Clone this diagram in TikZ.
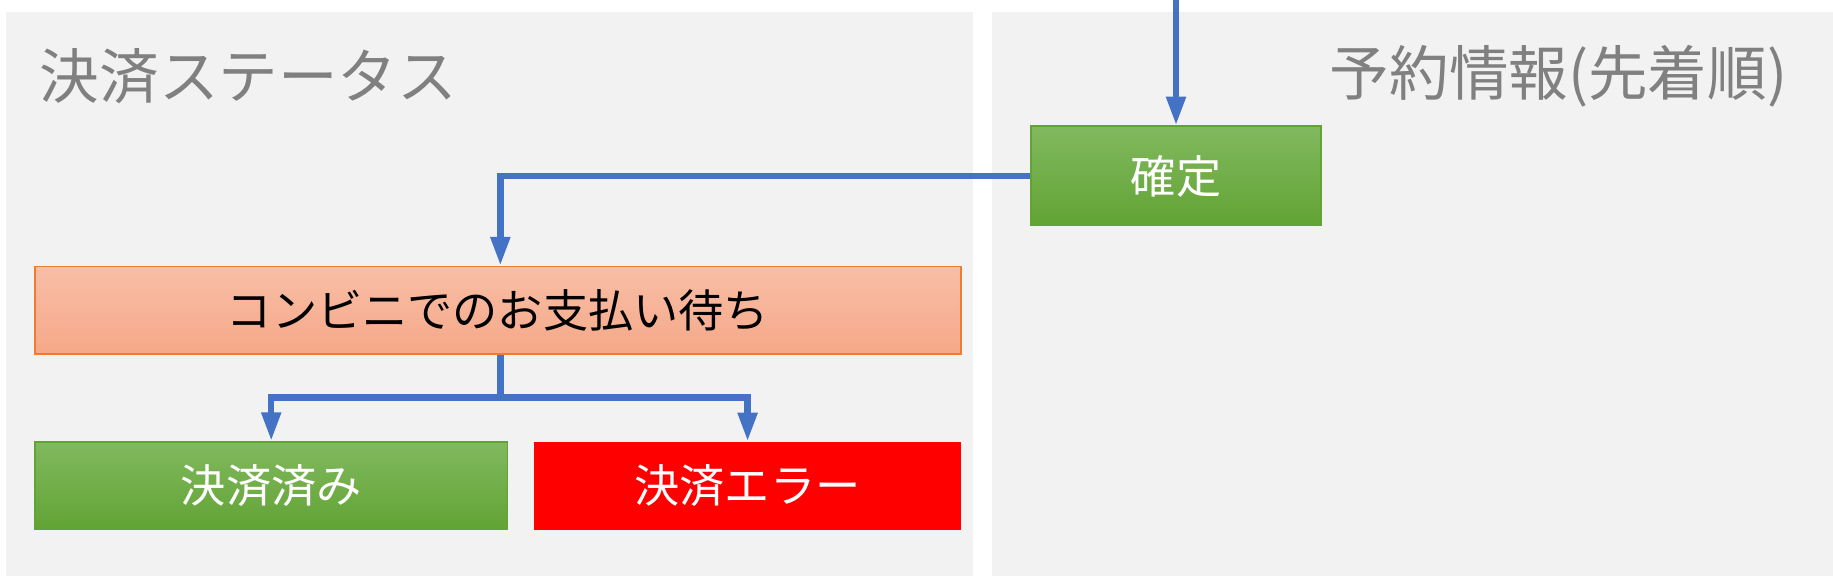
\documentclass[tikz,border=0pt]{standalone}
\usepackage{fontspec}
\setmainfont{Noto Sans CJK JP}
\usetikzlibrary{arrows.meta}
\begin{document}
\begin{tikzpicture}[x=0.02cm,y=-0.02cm,
  panel/.style={fill=black!5,draw=none},
  gbox/.style={draw=green!45!black!70,line width=0.8pt,top color=green!35!black!40!lime!60,bottom color=green!40!black!70,text=white,font=\fontsize{22}{24}\selectfont},
  flow/.style={draw={rgb,255:red,68;green,114;blue,196},line width=3.2pt,-{Triangle[length=14pt,width=9pt]}},
  title/.style={text=black!50,font=\fontsize{29}{32}\selectfont,anchor=west}]
\definecolor{g1}{RGB}{129,185,95}\definecolor{g2}{RGB}{98,163,52}
\tikzset{gbox/.style={draw=g2,line width=0.8pt,top color=g1,bottom color=g2,text=white,font=\fontsize{22}{24}\selectfont}}
\useasboundingbox (0,0) rectangle (1568,493);
\fill[white] (0,0) rectangle (1568,493);
\path[panel] (5,10) rectangle (832,493);
\path[panel] (849,10) rectangle (1568,493);
\node[title] (t1) at (28,65) {決済ステータス};
\node[title,anchor=east] (t2) at (1535,65) {予約情報(先着順)};
\node[gbox,minimum width=248*0.02cm,minimum height=85*0.02cm,inner sep=0] (kt) at (1006,150.5) {確定};
\node[draw={rgb,255:red,237;green,125;blue,49},line width=0.8pt,top color={rgb,255:red,247;green,190;blue,166},bottom color={rgb,255:red,246;green,168;blue,136},minimum width=792*0.02cm,minimum height=75*0.02cm,inner sep=0,font=\fontsize{22}{24}\selectfont] (cv) at (426,265.5) {コンビニでのお支払い待ち};
\node[gbox,minimum width=404*0.02cm,minimum height=75*0.02cm,inner sep=0] (ok) at (232,415.5) {決済済み};
\node[fill=red,minimum width=365*0.02cm,minimum height=75*0.02cm,inner sep=0,text=white,font=\fontsize{22}{24}\selectfont] (er) at (639.5,415.5) {決済エラー};
\coordinate (top) at (1006,0);
\draw[flow] (top) -- (kt.north);
\draw[flow] (kt.west) -| (cv.north -| 428,0);
\coordinate (br) at (428,340);
\draw[flow,-] (cv.south -| br) -- (br);
\draw[flow] (br) -| (ok.north);
\draw[flow] (br) -| (er.north);
\end{tikzpicture}
\end{document}
